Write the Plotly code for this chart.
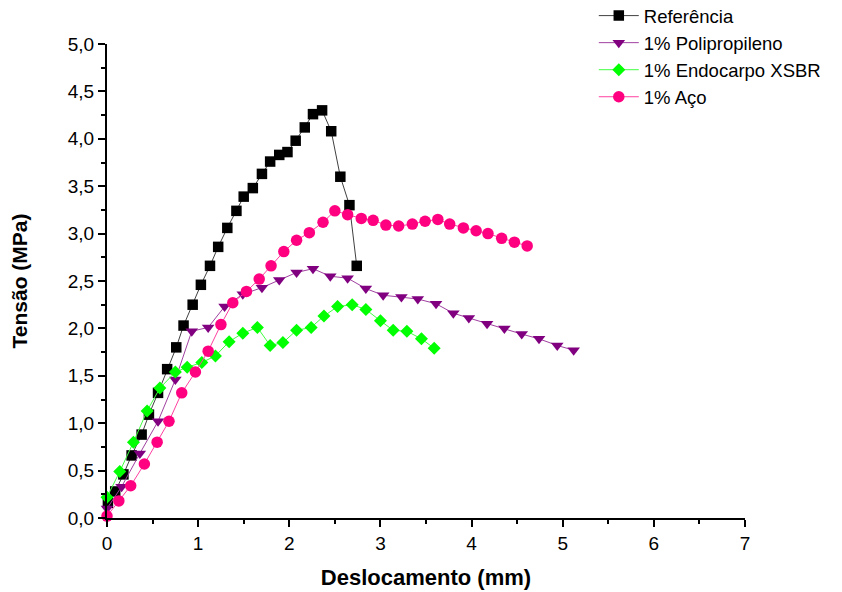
import plotly.graph_objects as go

ref_x = [0.01, 0.09, 0.18, 0.27, 0.38, 0.46, 0.56, 0.66, 0.76, 0.84, 0.94, 1.03, 1.13, 1.22, 1.32, 1.42,
         1.50, 1.60, 1.70, 1.79, 1.89, 1.98, 2.07, 2.17, 2.26, 2.36, 2.46, 2.56, 2.66, 2.74]
ref_y = [0.16, 0.28, 0.46, 0.66, 0.88, 1.09, 1.32, 1.57, 1.80, 2.03, 2.25, 2.46, 2.66, 2.86, 3.06, 3.24,
         3.39, 3.48, 3.63, 3.76, 3.83, 3.86, 3.98, 4.12, 4.26, 4.30, 4.08, 3.60, 3.30, 2.66]

pp_x = [0.00, 0.16, 0.36, 0.56, 0.75, 0.93, 1.11, 1.29, 1.49, 1.70, 1.89, 2.08, 2.26, 2.45, 2.64, 2.84,
        3.03, 3.23, 3.41, 3.61, 3.80, 3.97, 4.17, 4.36, 4.55, 4.74, 4.94, 5.12]
pp_y = [0.10, 0.33, 0.68, 1.02, 1.46, 1.97, 2.01, 2.23, 2.36, 2.43, 2.51, 2.59, 2.63, 2.55, 2.53, 2.42,
        2.35, 2.33, 2.31, 2.26, 2.16, 2.11, 2.05, 2.00, 1.94, 1.89, 1.82, 1.77]

endo_x = [0.00, 0.14, 0.29, 0.44, 0.58, 0.75, 0.88, 1.04, 1.19, 1.34, 1.49, 1.65, 1.79, 1.93, 2.08, 2.24,
          2.38, 2.53, 2.69, 2.84, 3.00, 3.14, 3.29, 3.45, 3.59]
endo_y = [0.22, 0.49, 0.80, 1.13, 1.37, 1.54, 1.59, 1.64, 1.71, 1.86, 1.95, 2.01, 1.82, 1.85, 1.98, 2.01,
          2.13, 2.23, 2.25, 2.20, 2.08, 1.98, 1.97, 1.89, 1.79]

aco_x = [0.00, 0.13, 0.26, 0.41, 0.55, 0.68, 0.82, 0.97, 1.11, 1.25, 1.38, 1.53, 1.67, 1.80, 1.94, 2.08,
         2.22, 2.37, 2.50, 2.64, 2.79, 2.92, 3.06, 3.20, 3.35, 3.49, 3.63, 3.76, 3.91, 4.05, 4.18, 4.33,
         4.47, 4.61]
aco_y = [0.02, 0.18, 0.34, 0.57, 0.80, 1.02, 1.32, 1.54, 1.76, 2.04, 2.27, 2.39, 2.52, 2.66, 2.81, 2.93,
         3.01, 3.12, 3.24, 3.20, 3.16, 3.14, 3.09, 3.08, 3.10, 3.13, 3.15, 3.10, 3.06, 3.03, 3.00, 2.95,
         2.91, 2.87]

names = ["Referência", "1% Polipropileno", "1% Endocarpo XSBR", "1% Aço"]
x_ticks = [0, 1, 2, 3, 4, 5, 6, 7]
y_ticks = [0.0, 0.5, 1.0, 1.5, 2.0, 2.5, 3.0, 3.5, 4.0, 4.5, 5.0]

series = [
    (ref_x, ref_y, "square", 10.5, "#000000", "#404040"),
    (pp_x, pp_y, "triangle-down", 11, "#800080", "#a040a0"),
    (endo_x, endo_y, "diamond", 10, "#00ff00", "#40ff40"),
    (aco_x, aco_y, "circle", 11.5, "#ff0080", "#ff40a0"),
]

fig = go.Figure()
for (xs, ys, sym, sz, mc, lc), nm in zip(series, names):
    fig.add_trace(go.Scatter(
        x=xs, y=ys, name=nm, mode="lines+markers",
        line=dict(color=lc, width=1),
        marker=dict(symbol=sym, size=sz, color=mc, line=dict(width=0)),
        cliponaxis=False,
    ))

font_family = "Liberation Sans, Arial, sans-serif"
fig.update_layout(
    width=842, height=592,
    margin=dict(l=107, r=97, t=44, b=74, autoexpand=False),
    paper_bgcolor="white", plot_bgcolor="white",
    separators=",.",
    font=dict(family=font_family, color="black", size=16),
    showlegend=True,
    legend=dict(
        x=0.763, y=1.099, xanchor="left", yanchor="top",
        font=dict(family=font_family, size=18.5, color="black"),
        bgcolor="rgba(0,0,0,0)", tracegroupgap=0, itemwidth=40,
    ),
    xaxis=dict(
        range=[0, 7], tickvals=x_ticks, ticktext=[str(v) for v in x_ticks],
        showgrid=False, zeroline=False, showline=True, linecolor="black", linewidth=2,
        ticks="outside", ticklen=7, tickwidth=2, tickcolor="black",
        minor=dict(dtick=0.5, ticks="outside", ticklen=4, tickwidth=2, tickcolor="black"),
        tickfont=dict(size=19),
        title=dict(text="<b>Deslocamento (mm)</b>", font=dict(size=22), standoff=17),
    ),
    yaxis=dict(
        range=[0, 5], tickvals=y_ticks, tickformat=".1f",
        showgrid=False, zeroline=False, showline=True, linecolor="black", linewidth=2,
        ticks="outside", ticklen=7, tickwidth=2, tickcolor="black",
        minor=dict(dtick=0.25, ticks="outside", ticklen=4, tickwidth=2, tickcolor="black"),
        tickfont=dict(size=19),
        title=dict(text="<b>Tensão (MPa)</b>", font=dict(size=21), standoff=34),
    ),
)

fig.write_html("out.html")
